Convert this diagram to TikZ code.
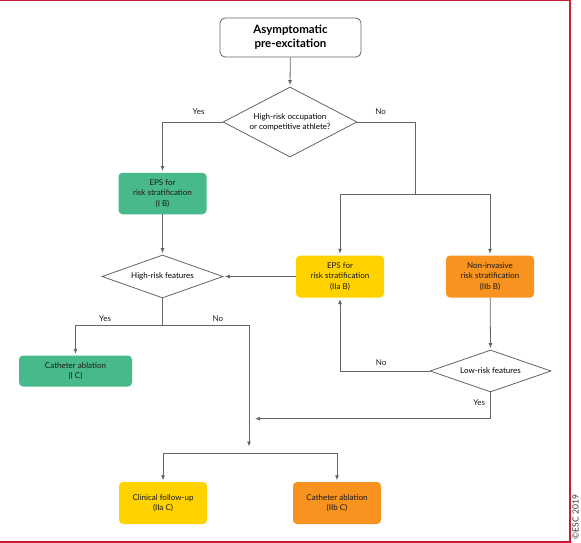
\documentclass[tikz,border=0pt]{standalone}
\usepackage{fontspec}
\setmainfont{Lato}
\usepackage{tikz}
\usepackage{xcolor}
\usetikzlibrary{shapes.geometric, positioning, arrows.meta}

\definecolor{escgreen}{RGB}{72,185,138}
\definecolor{escyellow}{RGB}{255,210,0}
\definecolor{escorange}{RGB}{247,147,30}
\definecolor{escred}{RGB}{200,30,50}
\definecolor{linegray}{RGB}{100,100,100}

\tikzset{
    box/.style={rounded corners=4pt, minimum width=88pt, minimum height=42pt, align=center, inner sep=2pt, text=black!90, font=\fontsize{8}{10.3}\selectfont},
    greenbox/.style={box, fill=escgreen},
    yellowbox/.style={box, fill=escyellow},
    orangebox/.style={box, fill=escorange},
    decision/.style={diamond, draw=linegray, line width=0.8pt, fill=white, aspect=2.8, inner sep=0pt, align=center, font=\fontsize{8}{10.3}\selectfont},
    line/.style={draw=linegray, line width=0.8pt},
    arr/.style={line, ->, shorten >=1.5pt},
    lbl/.style={font=\fontsize{8}{9}\selectfont, inner sep=1pt, text=black!90}
}

\begin{document}
\begin{tikzpicture}[x=1pt, y=-1pt, >={Latex[length=5pt,width=4pt]}]
    \useasboundingbox (0,0) rectangle (581,543);

    % frame
    \draw[escred, line width=1.5pt] (0,0.75) -- (570,0.75) -- (570,542) -- (0,542);
    \node[rotate=90, font=\fontsize{8.5}{9}\selectfont, text=black!80, inner sep=0pt] (copy) at (575.5,517) {©ESC 2019};

    % nodes
    \node[draw=linegray, line width=0.8pt, rounded corners=5pt, fill=white, minimum width=141pt, minimum height=39pt, align=center, font=\fontsize{11.5}{14}\selectfont\bfseries] (start) at (290.5,37.5) {Asymptomatic\\pre-excitation};
    \node[decision, minimum width=134pt, minimum height=70pt, aspect=2] (occ) at (290,122) {High-risk occupation\\or competitive athlete?};

    \node[greenbox, minimum height=41.5pt] (epsg) at (162.5,193.5) {EPS for\\risk stratification\\(I B)};
    \node[yellowbox] (epsy) at (340,276.5) {EPS for\\risk stratification\\(IIa B)};
    \node[orangebox] (noninv) at (490,276.5) {Non-invasive\\risk stratification\\(IIb B)};

    \node[decision, minimum width=121pt, minimum height=43pt] (hrf) at (162.5,276.5) {High-risk features};
    \node[decision, minimum width=121pt, minimum height=42pt] (lrf) at (490.5,371) {Low-risk features};

    \node[greenbox, minimum width=113pt, minimum height=31pt] (abl1) at (75.5,371) {Catheter ablation\\(I C)};
    \node[yellowbox] (follow) at (163,503) {Clinical follow-up\\(IIa C)};
    \node[orangebox] (abl2) at (337,503) {Catheter ablation\\(IIb C)};

    % junctions
    \coordinate (split1) at (415.5,194.3);
    \coordinate (split2) at (162.5,325.7);
    \coordinate (merge) at (249,448);
    \coordinate (yesend) at (255,418.7);
    \coordinate (split3) at (249,453);

    % connectors
    \draw[arr] (start) -- (occ.north);
    \draw[arr] (occ.west) -| node[lbl, pos=0.2, above=6pt] {Yes} (epsg.north);
    \draw[line] (occ.east) -| node[lbl, pos=0.2, above=6pt] {No} (split1);
    \draw[arr] (split1) -| (epsy.north);
    \draw[arr] (split1) -| (noninv.north);

    \draw[arr] (epsg) -- (hrf.north);
    \draw[arr] (epsy.west) -- (hrf.east);
    \draw[line] (hrf.south) -- (split2);
    \draw[arr] (split2) -| node[lbl, pos=0.33, above=3pt] {Yes} (abl1.north);
    \draw[arr] (split2) -| node[lbl, pos=0.32, above=3pt] {No} (merge);

    \draw[arr] (noninv) -- (lrf.north);
    \draw[arr] (lrf.west) -| node[lbl, pos=0.27, above=4pt] {No} (epsy.south);
    \draw[arr, shorten >=0pt] (lrf.south) |- node[lbl, pos=0.2, left=4pt] {Yes} (yesend);

    \draw[arr] (split3) -| (follow.north);
    \draw[arr] (split3) -| (abl2.north);
\end{tikzpicture}
\end{document}
